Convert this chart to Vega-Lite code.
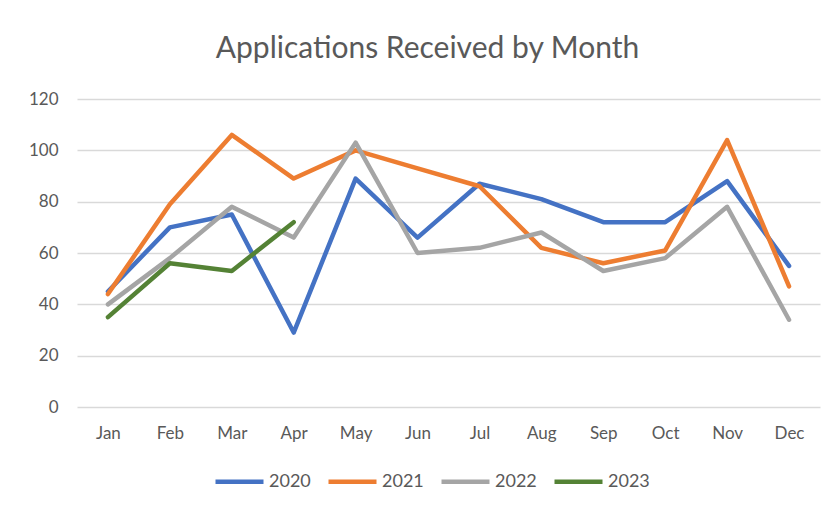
{
  "$schema": "https://vega.github.io/schema/vega-lite/v6.json",
  "width": 743,
  "height": 308,
  "autosize": "none",
  "padding": {"left": 77, "top": 99, "right": 12, "bottom": 100},
  "background": "white",
  "title": {
    "text": "Applications Received by Month",
    "anchor": "middle",
    "frame": "group",
    "dx": -21,
    "offset": 26,
    "font": "Lato",
    "fontSize": 30,
    "fontWeight": "normal",
    "color": "#595959"
  },
  "data": {
    "values": [
      {"month": "Jan", "year": "2020", "value": 45},
      {"month": "Feb", "year": "2020", "value": 70},
      {"month": "Mar", "year": "2020", "value": 75},
      {"month": "Apr", "year": "2020", "value": 29},
      {"month": "May", "year": "2020", "value": 89},
      {"month": "Jun", "year": "2020", "value": 66},
      {"month": "Jul", "year": "2020", "value": 87},
      {"month": "Aug", "year": "2020", "value": 81},
      {"month": "Sep", "year": "2020", "value": 72},
      {"month": "Oct", "year": "2020", "value": 72},
      {"month": "Nov", "year": "2020", "value": 88},
      {"month": "Dec", "year": "2020", "value": 55},
      {"month": "Jan", "year": "2021", "value": 44},
      {"month": "Feb", "year": "2021", "value": 79},
      {"month": "Mar", "year": "2021", "value": 106},
      {"month": "Apr", "year": "2021", "value": 89},
      {"month": "May", "year": "2021", "value": 100},
      {"month": "Jun", "year": "2021", "value": 93},
      {"month": "Jul", "year": "2021", "value": 86},
      {"month": "Aug", "year": "2021", "value": 62},
      {"month": "Sep", "year": "2021", "value": 56},
      {"month": "Oct", "year": "2021", "value": 61},
      {"month": "Nov", "year": "2021", "value": 104},
      {"month": "Dec", "year": "2021", "value": 47},
      {"month": "Jan", "year": "2022", "value": 40},
      {"month": "Feb", "year": "2022", "value": 58},
      {"month": "Mar", "year": "2022", "value": 78},
      {"month": "Apr", "year": "2022", "value": 66},
      {"month": "May", "year": "2022", "value": 103},
      {"month": "Jun", "year": "2022", "value": 60},
      {"month": "Jul", "year": "2022", "value": 62},
      {"month": "Aug", "year": "2022", "value": 68},
      {"month": "Sep", "year": "2022", "value": 53},
      {"month": "Oct", "year": "2022", "value": 58},
      {"month": "Nov", "year": "2022", "value": 78},
      {"month": "Dec", "year": "2022", "value": 34},
      {"month": "Jan", "year": "2023", "value": 35},
      {"month": "Feb", "year": "2023", "value": 56},
      {"month": "Mar", "year": "2023", "value": 53},
      {"month": "Apr", "year": "2023", "value": 72}
    ]
  },
  "mark": {"type": "line", "strokeWidth": 4.5, "strokeCap": "round", "strokeJoin": "round"},
  "encoding": {
    "x": {
      "field": "month",
      "type": "ordinal",
      "sort": ["Jan","Feb","Mar","Apr","May","Jun","Jul","Aug","Sep","Oct","Nov","Dec"],
      "scale": {"type": "point", "padding": 0.5},
      "axis": {
        "title": null,
        "labelAngle": 0,
        "ticks": false,
        "domain": false,
        "grid": false,
        "labelPadding": 18,
        "labelFont": "Lato",
        "labelFontSize": 17,
        "labelColor": "#595959"
      }
    },
    "y": {
      "field": "value",
      "type": "quantitative",
      "scale": {"domain": [0, 120], "nice": false},
      "axis": {
        "title": null,
        "values": [0, 20, 40, 60, 80, 100, 120],
        "ticks": false,
        "domain": false,
        "gridColor": "#D9D9D9",
        "gridWidth": 1.3,
        "labelPadding": 19,
        "labelFont": "Lato",
        "labelFontSize": 17,
        "labelColor": "#595959"
      }
    },
    "color": {
      "field": "year",
      "type": "nominal",
      "scale": {
        "domain": ["2020", "2021", "2022", "2023"],
        "range": ["#4472C4", "#ED7D31", "#A5A5A5", "#548235"]
      },
      "legend": {
        "title": null,
        "orient": "none",
        "direction": "horizontal",
        "legendX": 136,
        "legendY": 356,
        "symbolType": "stroke",
        "symbolSize": 2304,
        "symbolStrokeWidth": 4.5,
        "labelFont": "Lato",
        "labelFontSize": 18,
        "labelColor": "#595959",
        "labelOffset": 3,
        "columnPadding": 8
      }
    }
  },
  "config": {"view": {"stroke": null}}
}
